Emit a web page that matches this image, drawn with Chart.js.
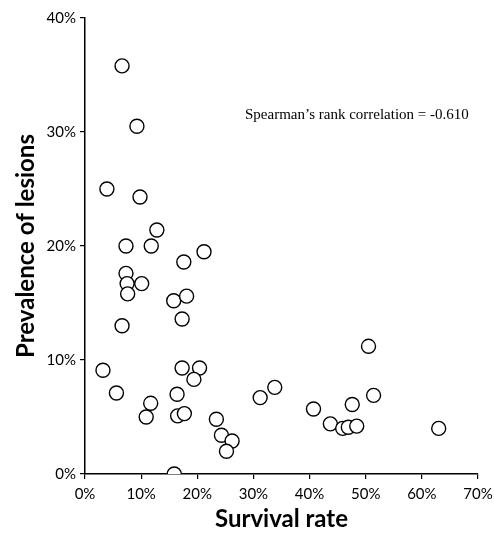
<!DOCTYPE html>
<html>
<head>
<meta charset="utf-8">
<script src="https://cdn.jsdelivr.net/npm/chart.js@4"></script>
<style>
  html, body { margin: 0; padding: 0; background: #fff; }
  #wrap { width: 494px; height: 537px; }
</style>
</head>
<body>
<div id="wrap"><canvas id="lesionChart"></canvas></div>
<script>
// survival rate (%) and prevalence of lesions (%) per site
const survivalRate = [6.6, 9.25, 3.9, 9.8, 12.8, 7.3, 11.8, 21.2, 17.6, 7.3, 7.5, 10.1, 7.6, 15.8, 18.1, 17.3, 6.6,
  3.2, 17.3, 20.4, 19.4, 5.6, 16.4, 11.7, 10.9, 16.5, 17.7, 23.4, 24.3, 26.2, 25.2, 15.9,
  50.5, 33.8, 31.2, 51.4, 47.6, 40.7, 43.7, 45.9, 46.9, 48.4, 63.0];
const lesionPrevalence = [35.8, 30.5, 25.0, 24.3, 21.4, 20.0, 20.0, 19.5, 18.6, 17.6, 16.7, 16.7, 15.8, 15.2, 15.6, 13.6, 13.0,
  9.1, 9.3, 9.3, 8.3, 7.1, 7.0, 6.2, 5.0, 5.1, 5.3, 4.8, 3.4, 2.9, 2.0, 0.0,
  11.2, 7.6, 6.7, 6.9, 6.1, 5.7, 4.4, 4.0, 4.1, 4.2, 4.0];
const xTicks = [0, 10, 20, 30, 40, 50, 60, 70];
const yTicks = [0, 10, 20, 30, 40];
const annotationText = 'Spearman\u2019s rank correlation = -0.610';

const points = survivalRate.map((x, i) => ({ x: x, y: lesionPrevalence[i] }));

// texte libre dans le graphique
const annotationPlugin = {
  id: 'annotation',
  afterDraw(chart) {
    const c = chart.ctx;
    c.save();
    c.font = '15px "Liberation Serif", "Times New Roman", serif';
    c.fillStyle = '#000';
    c.textBaseline = 'alphabetic';
    c.fillText(annotationText, 245, 119);
    c.restore();
  }
};

const ctx = document.getElementById('lesionChart').getContext('2d');
new Chart(ctx, {
  type: 'scatter',
  data: {
    datasets: [{
      data: points,
      backgroundColor: '#fff',
      borderColor: '#000',
      borderWidth: 1.4,
      pointRadius: 7,
      pointHoverRadius: 7
    }]
  },
  options: {
    responsive: true,
    maintainAspectRatio: false,
    animation: false,
    layout: { padding: { top: 18, right: 16, left: 0, bottom: 0 } },
    plugins: { legend: { display: false }, tooltip: { enabled: false } },
    scales: {
      x: {
        type: 'linear',
        min: 0, max: 70,
        afterBuildTicks: s => { s.ticks = xTicks.map(v => ({ value: v })); },
        afterFit: s => { s.height = 63; s.paddingLeft = 0; s.paddingRight = 0; },
        border: { display: true, color: '#000', width: 1.5 },
        grid: { drawOnChartArea: false, drawTicks: true, tickLength: 5, color: '#000', lineWidth: 1.2 },
        ticks: {
          color: '#000', padding: 6,
          font: { family: 'Lato, "Open Sans", sans-serif', size: 15 },
          callback: v => v + '%'
        },
        title: {
          display: true, text: 'Survival rate', color: '#000',
          font: { family: 'Lato, "Open Sans", sans-serif', size: 24, weight: 'bold' },
          padding: { top: 0, bottom: 3 }
        }
      },
      y: {
        type: 'linear',
        min: 0, max: 40,
        afterBuildTicks: s => { s.ticks = yTicks.map(v => ({ value: v })); },
        afterFit: s => { s.width = 85; s.paddingTop = 0; s.paddingBottom = 0; },
        border: { display: true, color: '#000', width: 1.5 },
        grid: { drawOnChartArea: false, drawTicks: true, tickLength: 5, color: '#000', lineWidth: 1.2 },
        ticks: {
          color: '#000', padding: 4,
          font: { family: 'Lato, "Open Sans", sans-serif', size: 15 },
          callback: v => v + '%'
        },
        title: {
          display: true, text: 'Prevalence of lesions', color: '#000',
          font: { family: 'Lato, "Open Sans", sans-serif', size: 24, weight: 'bold' },
          padding: { top: 12, bottom: 0 }
        }
      }
    }
  },
  plugins: [annotationPlugin]
});
</script>
</body>
</html>
